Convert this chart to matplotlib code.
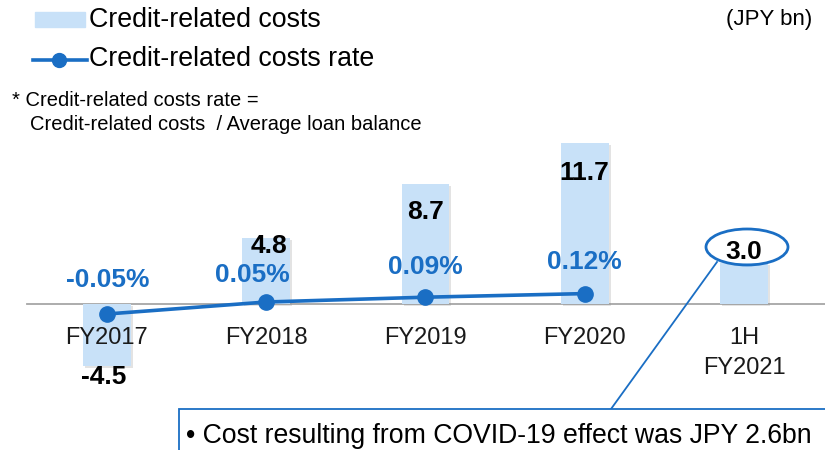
'''
Credit-related costs and credit-related costs rate
'''
import matplotlib
matplotlib.use('Agg')
import matplotlib.pyplot  as plt
import matplotlib.patches as mpatches
import matplotlib.lines   as mlines
import matplotlib.patheffects as pe

plt.rcParams['font.family'] = ['Liberation Sans', 'DejaVu Sans']

# --------------------------------
categories = ['FY2017', 'FY2018', 'FY2019', 'FY2020', '1H\nFY2021']
costs      = [-4.5, 4.8, 8.7, 11.7, 3.0]
cost_lbls  = ['-4.5', '4.8', '8.7', '11.7', '3.0']
rates      = [-0.05, 0.05, 0.09, 0.12]
rate_lbls  = ['-0.05%', '0.05%', '0.09%', '0.12%']

BAR_COLOR  = '#C8E1F8'
LINE_COLOR = '#1A6EC4'
W, H       = 825, 450
# --------------------------------
def _fx(px):
    return px / W
# --------------------------------
def _fy(py):
    return 1 - py / H
# --------------------------------
def _draw_bars(ax):
    xs   = range(len(costs))
    bars = ax.bar(xs, costs, width=0.30, color=BAR_COLOR, zorder=2)
    for bar in bars:
        bar.set_path_effects([pe.SimplePatchShadow(offset=(1.5, -1.5), shadow_rgbFace='#909090', alpha=0.25), pe.Normal()])

    ax.axhline(0, xmin=_fx(27), xmax=1, color='#A6A6A6', lw=1.3, zorder=1)

    l_off = [(-3, -11), (3, -8), (0, -28), (0, -30), (0, 11)]
    for i, (val, lbl) in enumerate(zip(costs, cost_lbls)):
        dx, dy = l_off[i]
        ax.annotate(lbl, xy=(i, val), xytext=(dx, dy), textcoords='offset pixels',
                    ha='center', va='center', fontsize=19, fontweight='bold', color='black', zorder=5)

    for i, cat in enumerate(categories):
        ax.annotate(cat, xy=(i, 0), xytext=(0, -23), textcoords='offset pixels',
                    ha='center', va='top', fontsize=17, color='#1A1A1A', linespacing=1.5, zorder=5)
# --------------------------------
def _draw_rate(ax):
    xs = range(len(rates))
    ax.plot(xs, rates, color=LINE_COLOR, lw=2.6, marker='o', markersize=11, zorder=4)

    l_off = [(1, 34), (-14, 27), (0, 30), (0, 32)]
    for i, (val, lbl) in enumerate(zip(rates, rate_lbls)):
        dx, dy = l_off[i]
        ax.annotate(lbl, xy=(i, val), xytext=(dx, dy), textcoords='offset pixels',
                    ha='center', va='center', fontsize=19, fontweight='bold', color=LINE_COLOR, zorder=5)
# --------------------------------
def _draw_legend(fig):
    fig.patches.append(mpatches.Rectangle((_fx(35), _fy(27)), _fx(50), 15 / H, color=BAR_COLOR,
                                          transform=fig.transFigure, figure=fig))
    fig.text(_fx(89), _fy(20), 'Credit-related costs', fontsize=19.3, va='center', ha='left')

    fig.lines.append(mlines.Line2D([_fx(33), _fx(87)], [_fy(60), _fy(60)], color=LINE_COLOR, lw=2.6,
                                   transform=fig.transFigure, figure=fig))
    fig.lines.append(mlines.Line2D([_fx(59)], [_fy(60)], color=LINE_COLOR, marker='o', markersize=10,
                                   transform=fig.transFigure, figure=fig))
    fig.text(_fx(89), _fy(59), 'Credit-related costs rate', fontsize=19.3, va='center', ha='left')

    fig.text(_fx(812), _fy(20), '(JPY bn)', fontsize=16, va='center', ha='right')

    fig.text(_fx(12), _fy(100), '* Credit-related costs rate =', fontsize=14.5, va='center', ha='left')
    fig.text(_fx(30), _fy(124), 'Credit-related costs  / Average loan balance', fontsize=14.5, va='center',
             ha='left')
# --------------------------------
def _draw_callout(fig):
    fig.patches.append(mpatches.Rectangle((_fx(179), _fy(470)), _fx(700), 61 / H, facecolor='white',
                                          edgecolor=LINE_COLOR, lw=1.3, transform=fig.transFigure,
                                          figure=fig, zorder=6))
    fig.text(_fx(186), _fy(436), '\u2022 Cost resulting from COVID-19 effect was JPY 2.6bn', fontsize=19.2,
             va='center', ha='left', zorder=7)

    fig.lines.append(mlines.Line2D([_fx(717), _fx(611)], [_fy(262), _fy(409)], color=LINE_COLOR, lw=1.3,
                                   transform=fig.transFigure, figure=fig, zorder=6))
    fig.patches.append(mpatches.Ellipse((_fx(747), _fy(247)), _fx(82), 36 / H, facecolor='none',
                                        edgecolor=LINE_COLOR, lw=2.0, transform=fig.transFigure,
                                        figure=fig, zorder=6))
# --------------------------------
def main():
    '''
    Start here
    '''
    fig = plt.figure(figsize=(W / 100, H / 100), dpi=100)
    ax  = fig.add_axes([0, 0, 1, 1])

    step = 159.25
    ax.set_xlim(-107 / step, (W - 107) / step)
    ax.set_ylim(-(H - 304) / 13.8, 304 / 13.8)
    ax.axis('off')

    ax2 = ax.twinx()
    ax2.set_ylim(-(H - 308) / 120, 308 / 120)
    ax2.axis('off')

    _draw_bars(ax)
    _draw_rate(ax2)
    _draw_legend(fig)
    _draw_callout(fig)

    fig.savefig('out.png', dpi=100)
    plt.close(fig)
# --------------------------------
if __name__ == '__main__':
    main()
